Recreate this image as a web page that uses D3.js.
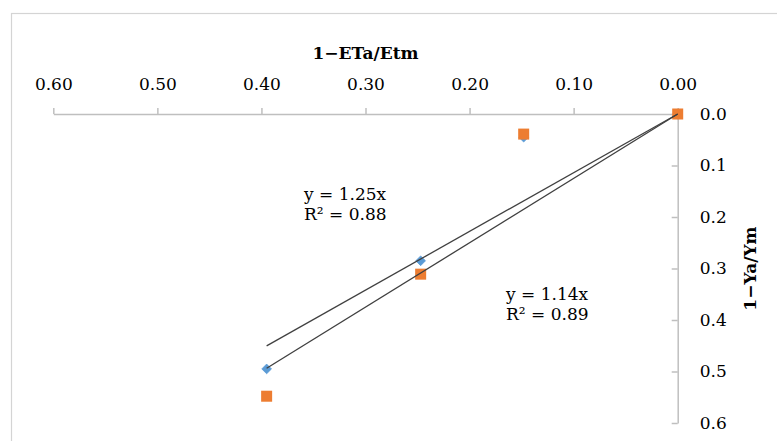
<!DOCTYPE html>
<html>
<head>
<meta charset="utf-8">
<script src="https://cdn.jsdelivr.net/npm/d3@7"></script>
<style>
  html, body { margin: 0; padding: 0; background: #fff; }
  svg { display: block; }
  text { font-family: "Palatino Linotype", "Book Antiqua", Palatino, "DejaVu Serif", serif; fill: #000; }
</style>
</head>
<body>
<svg id="chart" width="777" height="441"></svg>
<script>
// ---- data ----
const xValues = [0, 0.148, 0.247, 0.395];          // 1−ETa/Etm
const seriesA = [0, 0.045, 0.285, 0.495];          // blue diamonds (1−Ya/Ym)
const seriesB = [0, 0.039, 0.311, 0.548];          // orange squares (1−Ya/Ym)
const slopes = [1.14, 1.25];                       // trendlines y = kx (A, B)
const eqLabels = [["y = 1.14x", "R² = 0.89"], ["y = 1.25x", "R² = 0.88"]];
const xTicks = [0.6, 0.5, 0.4, 0.3, 0.2, 0.1, 0.0];
const yTicks = [0.0, 0.1, 0.2, 0.3, 0.4, 0.5, 0.6];
const xTitle = "1\u2212ETa/Etm";
const yTitle = "1\u2212Ya/Ym";

// ---- layout ----
const svg = d3.select("#chart");
const x = d3.scaleLinear().domain([0.6, 0]).range([53.3, 677.7]);
const y = d3.scaleLinear().domain([0, 0.6]).range([114, 423]);
const axisColor = "#bfbfbf";
const fs = 17;

// chart border
svg.append("rect").attr("x", 11.5).attr("y", 13.5).attr("width", 800).attr("height", 500)
  .attr("fill", "none").attr("stroke", "#d4d4d4").attr("stroke-width", 1.2);

// x axis (top)
const gx = svg.append("g").attr("transform", `translate(0,${y(0)})`)
  .call(d3.axisTop(x).tickValues(xTicks).tickFormat(d3.format(".2f")).tickSize(6).tickSizeOuter(0).tickPadding(18));
gx.attr("font-family", null).attr("font-size", null);
gx.select(".domain").attr("stroke", axisColor).attr("stroke-width", 1.5);
gx.selectAll(".tick line").attr("stroke", axisColor).attr("stroke-width", 1.5);
gx.selectAll(".tick text").attr("font-size", fs).attr("fill", "#000");

// y axis (right)
const gy = svg.append("g").attr("transform", `translate(${x(0)},0)`)
  .call(d3.axisRight(y).tickValues(yTicks).tickFormat(d3.format(".1f")).tickSizeInner(-6).tickSizeOuter(0).tickPadding(22));
gy.attr("font-family", null).attr("font-size", null);
gy.select(".domain").attr("stroke", axisColor).attr("stroke-width", 1.5);
gy.selectAll(".tick line").attr("stroke", axisColor).attr("stroke-width", 1.5);
gy.selectAll(".tick text").attr("font-size", fs).attr("fill", "#000");

// axis titles
svg.append("text").attr("x", (x.range()[0] + x.range()[1]) / 2).attr("y", 59)
  .attr("text-anchor", "middle").attr("font-size", fs).attr("font-weight", "bold").text(xTitle);
svg.append("text").attr("transform", `translate(756,${(y.range()[0] + y.range()[1]) / 2}) rotate(-90)`)
  .attr("text-anchor", "middle").attr("font-size", fs).attr("font-weight", "bold").text(yTitle);

// markers
const ptsA = xValues.map((v, i) => [v, seriesA[i]]);
const ptsB = xValues.map((v, i) => [v, seriesB[i]]);
svg.append("g").selectAll("path").data(ptsA).join("path")
  .attr("transform", d => `translate(${x(d[0])},${y(d[1])})`)
  .attr("d", d3.symbol(d3.symbolDiamond2, 60)())
  .attr("fill", "#5b9bd5").attr("stroke", "#5b9bd5").attr("stroke-width", 0.8);
svg.append("g").selectAll("rect").data(ptsB).join("rect")
  .attr("x", d => x(d[0]) - 5.5).attr("y", d => y(d[1]) - 5.5).attr("width", 11).attr("height", 11)
  .attr("fill", "#ed7d31");

// trendlines
const xMax = d3.max(xValues);
svg.append("g").selectAll("line").data(slopes).join("line")
  .attr("x1", x(0)).attr("y1", y(0))
  .attr("x2", x(xMax)).attr("y2", k => y(k * xMax))
  .attr("stroke", "#404040").attr("stroke-width", 1.3);

// equation labels
const eqPos = [[506, 300], [304, 200]];
eqLabels.forEach((lines, i) => {
  const t = svg.append("text").attr("x", eqPos[i][0]).attr("y", eqPos[i][1]).attr("font-size", fs);
  lines.forEach((s, j) => t.append("tspan").attr("x", eqPos[i][0]).attr("dy", j === 0 ? 0 : 20).text(s));
});
</script>
</body>
</html>
